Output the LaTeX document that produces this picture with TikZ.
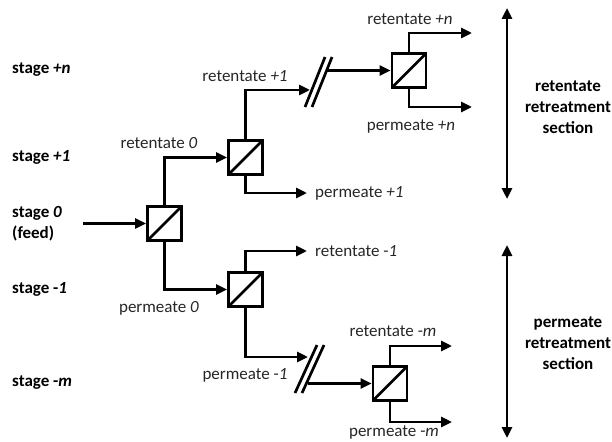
\documentclass[tikz,border=0pt]{standalone}
\usepackage{fontspec}
\setmainfont{Carlito}
\usetikzlibrary{arrows.meta,positioning}

\begin{document}
\begin{tikzpicture}[
    x=1pt, y=-1pt,
    font=\fontsize{17}{21}\selectfont,
    % Styles
    module/.style={
        draw, 
        line width=2.8pt, 
        minimum size=34pt, 
        inner sep=0pt,
        path picture={\draw[line width=2.6pt] (path picture bounding box.south west) -- (path picture bounding box.north east);}
    },
    stage/.style={
        anchor=west, 
        inner sep=0pt, 
        align=left,
        font=\fontsize{17}{21}\selectfont\bfseries
    },
    stream/.style={
        text=black!85, 
        inner sep=0pt
    },
    section/.style={
        align=center, 
        inner sep=0pt,
        font=\fontsize{17}{21}\selectfont\bfseries
    },
    % Line Styles
    flow/.style={draw, line width=2.7pt, -{Triangle[length=11pt,width=10pt]}},
    brk/.style={draw, line width=2.7pt},
    span/.style={draw, line width=2.7pt, {Triangle[length=11pt,width=10pt]}-{Triangle[length=11pt,width=10pt]}}
]
\useasboundingbox (0,0) rectangle (612,441);

% --- Modules ---
\node[module] (M0) at (164.5,223.5) {};
\node[module] (Rone) at (245.5,157.5) {};
\node[module] (Rn) at (409,70.5) {};
\node[module] (Pone) at (245.5,289.5) {};
\node[module] (Pm) at (390,383.5) {};

% --- Free ends ---
\coordinate (Feed) at (83,223.5);
\coordinate (RoneOut) at (310,90);
\coordinate (RnIn) at (327,70.5);
\coordinate (PoneOut) at (307,193);
\coordinate (RnTop) at (472,33);
\coordinate (RnBot) at (472,107);
\coordinate (PoneTop) at (307,251);
\coordinate (PoneBot) at (308,357);
\coordinate (PmIn) at (308,383.5);
\coordinate (PmTop) at (452,346);
\coordinate (PmBot) at (452,422);

% --- Streams ---
\draw[flow] (Feed) -- (M0);
\draw[flow] (M0.north) |- (Rone.west);
\draw[flow] (M0.south) |- (Pone.west);

\draw[flow] (Rone.north) |- (RoneOut);
\draw[flow] (Rone.south) |- (PoneOut);
\draw[flow] (RnIn) -- (Rn);
\draw[flow] (Rn.north) |- (RnTop);
\draw[flow] (Rn.south) |- (RnBot);

\draw[flow] (Pone.north) |- (PoneTop);
\draw[flow] (Pone.south) |- (PoneBot);
\draw[flow] (PmIn) -- (Pm);
\draw[flow] (Pm.north) |- (PmTop);
\draw[flow] (Pm.south) |- (PmBot);

% breaks
\draw[brk] (305,107) -- (325,57);
\draw[brk] (312,107) -- (332,57);
\draw[brk] (295,393) -- (317,345);
\draw[brk] (302,393) -- (324,345);

% --- Stream labels ---
\node[stream] at (159,143) {retentate \textit{0}};
\node[stream] at (159,308) {permeate \textit{0}};
\node[stream] at (245,76) {retentate \textit{+1}};
\node[stream, right=8pt of PoneOut] {permeate \textit{+1}};
\node[stream] at (410,19) {retentate \textit{+n}};
\node[stream] at (411,126) {permeate \textit{+n}};
\node[stream, right=8pt of PoneTop] {retentate -\textit{1}};
\node[stream] at (245,375) {permeate -\textit{1}};
\node[stream] at (393,331) {retentate -\textit{m}};
\node[stream] at (394,432) {permeate -\textit{m}};

% --- Stage labels ---
\node[stage] (Sn) at (12,70) {stage \textit{+n}};
\node[stage] (Sone) at (12,157) {stage \textit{+1}};
\node[stage] (Szero) at (12,223.5) {stage \textit{0}\\(feed)};
\node[stage] (Smone) at (12,289) {stage -\textit{1}};
\node[stage] (Sm) at (12,383) {stage -\textit{m}};

% --- Sections ---
\coordinate (RtTop) at (507,8);
\coordinate (RtBot) at (507,199);
\coordinate (PtTop) at (507,245);
\coordinate (PtBot) at (507,438);
\draw[span] (RtTop) -- (RtBot);
\draw[span] (PtTop) -- (PtBot);
\node[section] at (568,107) {retentate\\retreatment\\section};
\node[section] at (568,343) {permeate\\retreatment\\section};

\end{tikzpicture}
\end{document}
